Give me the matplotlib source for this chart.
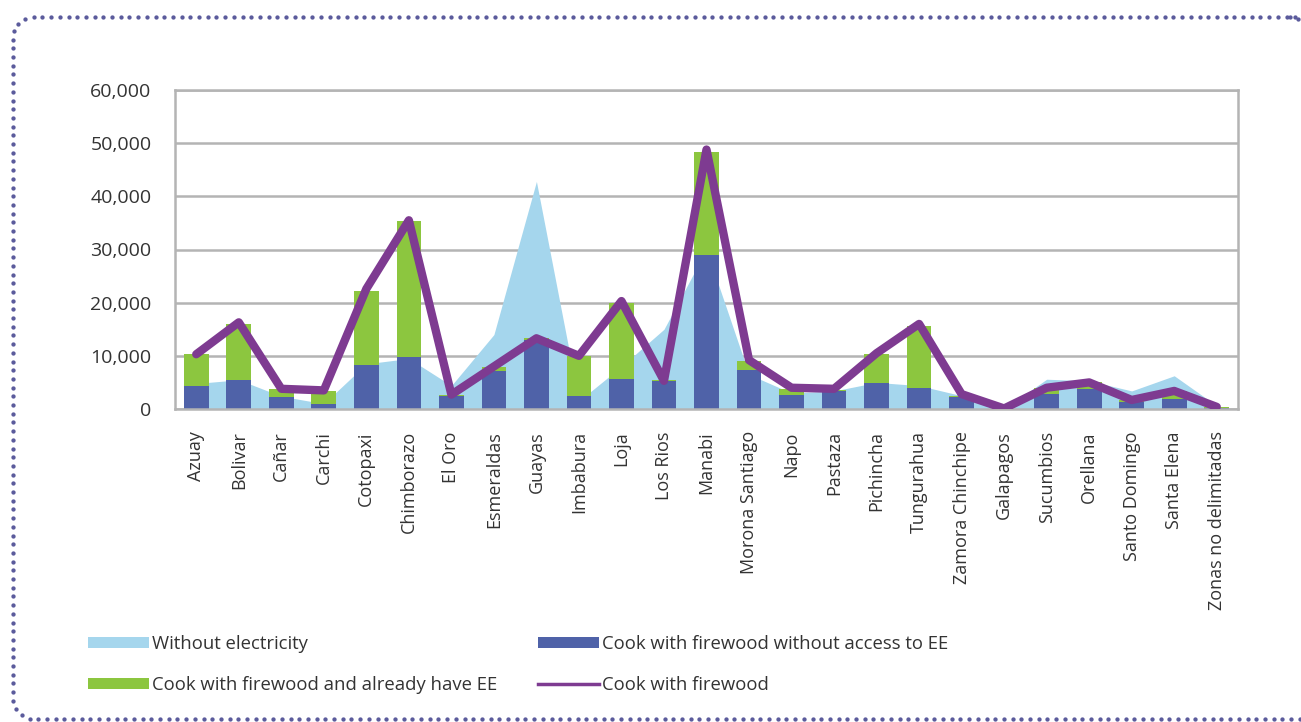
import matplotlib
matplotlib.use("Agg")
import matplotlib.pyplot as plt
from matplotlib.patches import Patch
from matplotlib.lines import Line2D
from matplotlib.ticker import FuncFormatter
import numpy as np

provinces = ["Azuay", "Bolivar", "Cañar", "Carchi", "Cotopaxi", "Chimborazo", "El Oro",
             "Esmeraldas", "Guayas", "Imbabura", "Loja", "Los Rios", "Manabi",
             "Morona Santiago", "Napo", "Pastaza", "Pichincha", "Tungurahua",
             "Zamora Chinchipe", "Galapagos", "Sucumbios", "Orellana", "Santo Domingo",
             "Santa Elena", "Zonas no delimitadas"]

without_electricity = [4800, 5500, 2400, 1000, 8500, 9500, 4400, 14000, 42800, 1500,
                       8000, 15000, 30000, 6500, 3000, 3400, 5000, 4400, 2500, 0,
                       5600, 5300, 3400, 6250, 600]
firewood_no_ee = [4300, 5400, 2200, 1000, 8300, 9700, 2500, 7200, 13000, 2500,
                  5600, 5300, 29000, 7300, 2600, 3400, 4800, 4000, 2300, 0,
                  2800, 3700, 1300, 1900, 200]
firewood_with_ee = [6000, 10600, 1500, 2400, 13900, 25600, 200, 700, 300, 7500,
                    14400, 100, 19400, 1700, 1150, 200, 5500, 11600, 200, 0,
                    1200, 1300, 400, 1500, 200]
firewood_total = [10300, 16300, 3800, 3500, 22600, 35500, 2700, 8000, 13300, 10000,
                  20300, 5300, 48800, 9200, 4000, 3800, 10500, 16000, 2800, 100,
                  4000, 5000, 1700, 3400, 400]
y_ticks = [0, 10000, 20000, 30000, 40000, 50000, 60000]

C_AREA = "#a5d6ed"
C_BLUE = "#4f62a8"
C_GREEN = "#8cc63f"
C_LINE = "#7e3b91"
C_GRID = "#b4b4b4"
C_TEXT = "#333333"
C_DOTS = "#5b5b9c"

plt.rcParams["font.family"] = ["Open Sans", "DejaVu Sans"]

W, H = 1301, 722
fig = plt.figure(figsize=(W / 100, H / 100), dpi=100)
fig.patch.set_facecolor("white")


def frame_outline(left, top, right, bottom, r, n=40):
    """Outline of a rounded rectangle in pixel coordinates (y downwards)."""
    pts = []
    a = np.linspace(-np.pi / 2, -np.pi, n)
    pts.append(np.column_stack([[right, left + r], [top, top]]))
    pts.append(np.column_stack([left + r + r * np.cos(a), top + r + r * np.sin(a)]))
    pts.append(np.column_stack([[left, left], [top + r, bottom - r]]))
    a = np.linspace(np.pi, np.pi / 2, n)
    pts.append(np.column_stack([left + r + r * np.cos(a), bottom - r + r * np.sin(a)]))
    pts.append(np.column_stack([[left + r, right], [bottom, bottom]]))
    return np.vstack(pts)


def dots_along(path, spacing):
    seg = np.hypot(*np.diff(path, axis=0).T)
    s = np.concatenate([[0], np.cumsum(seg)])
    t = np.arange(0, s[-1], spacing)
    return np.interp(t, s, path[:, 0]), np.interp(t, s, path[:, 1])


# dotted rounded frame around the chart (right side runs off the canvas)
outline = frame_outline(13, 17, 1330, 719, 20)
dx, dy = dots_along(outline, 8.7)
fig.add_artist(Line2D(dx / W, 1 - dy / H, transform=fig.transFigure, linestyle="none",
                      marker="o", markersize=3.1, markeredgewidth=0,
                      markerfacecolor=C_DOTS))
corner = np.column_stack([1290 + 20 * np.cos(np.linspace(-np.pi / 2, 0, 20)),
                          37 + 20 * np.sin(np.linspace(-np.pi / 2, 0, 20))])
cx, cy = dots_along(corner, 8.7)
fig.add_artist(Line2D(cx / W, 1 - cy / H, transform=fig.transFigure, linestyle="none",
                      marker="o", markersize=3.1, markeredgewidth=0,
                      markerfacecolor=C_DOTS))

ax = fig.add_axes([175 / W, 1 - 409 / H, (1238 - 175) / W, (409 - 90) / H])
x = np.arange(len(provinces))

ax.fill_between(x, without_electricity, 0, color=C_AREA, linewidth=0, zorder=1)
ax.bar(x, firewood_no_ee, width=0.58, color=C_BLUE, zorder=2)
ax.bar(x, firewood_with_ee, width=0.58, bottom=firewood_no_ee, color=C_GREEN, zorder=2)
ax.plot(x, firewood_total, color=C_LINE, linewidth=6, solid_joinstyle="round",
        solid_capstyle="round", zorder=3)

ax.set_xlim(-0.5, len(provinces) - 0.5)
ax.set_ylim(0, 60000)
ax.set_yticks(y_ticks)
ax.yaxis.set_major_formatter(FuncFormatter(lambda v, p: f"{int(v):,}"))
ax.set_xticks(x)
ax.set_xticklabels(provinces, rotation=90, ha="center", va="top")
ax.tick_params(axis="both", length=0, colors=C_TEXT, labelsize=13)
ax.tick_params(axis="y", pad=17, labelsize=14)
ax.tick_params(axis="x", pad=16)

ax.set_axisbelow(True)
ax.grid(axis="y", color=C_GRID, linewidth=1.8)
for side in ["left", "right", "top", "bottom"]:
    ax.spines[side].set_color(C_GRID)
    ax.spines[side].set_linewidth(1.8)

# legend, two columns
h_area = Patch(facecolor=C_AREA, edgecolor="none")
h_blue = Patch(facecolor=C_BLUE, edgecolor="none")
h_green = Patch(facecolor=C_GREEN, edgecolor="none")
h_line = Line2D([], [], color=C_LINE, linewidth=2.5)

common = dict(frameon=False, fontsize=13.3, handlelength=3.3, handleheight=0.5,
              handletextpad=0.15, labelspacing=1.25, borderpad=0, borderaxespad=0,
              labelcolor=C_TEXT)
leg1 = fig.legend([h_area, h_green],
                  ["Without electricity", "Cook with firewood and already have EE"],
                  loc="upper left", bbox_to_anchor=(88 / W, 1 - 635 / H), **common)
leg2 = fig.legend([h_blue, h_line],
                  ["Cook with firewood without access to EE", "Cook with firewood"],
                  loc="upper left", bbox_to_anchor=(538 / W, 1 - 635 / H), **common)

fig.savefig("out.png", dpi=100, facecolor="white")
